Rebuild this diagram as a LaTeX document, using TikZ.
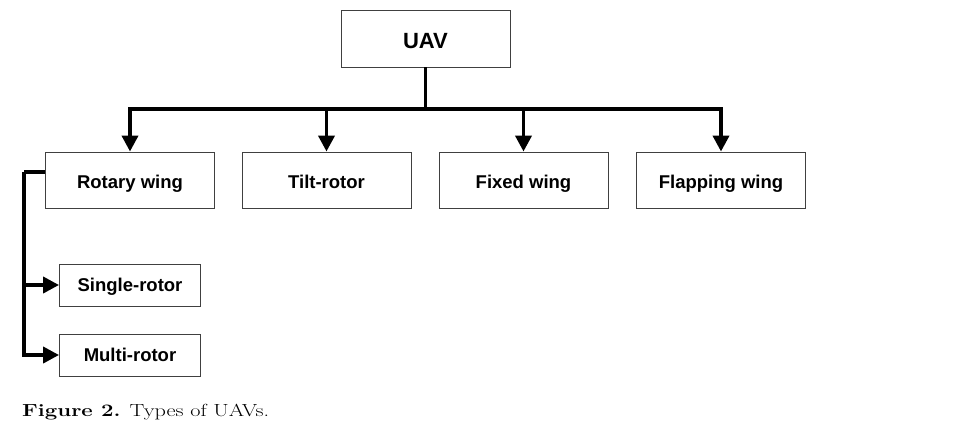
\documentclass[tikz,border=0pt]{standalone}
\usepackage{fontspec}
\newfontfamily\arialfont{Liberation Sans}
\newfontfamily\capfont{Latin Modern Roman}[FakeStretch=1.27]
\usetikzlibrary{arrows.meta}
\tikzset{
  box/.style={draw=black!75, line width=0.9pt, fill=white, inner sep=0pt, text height=17pt, text depth=0pt, font=\arialfont\bfseries\fontsize{18.5}{20}\selectfont},
  smallbox/.style={box, text height=13pt},
  conn/.style={line width=3.8pt, black, line join=miter},
  arr/.style={conn, -{Triangle[length=16pt,width=16pt]}}
}
\begin{document}
\begin{tikzpicture}[x=1pt,y=-1pt]
\useasboundingbox (0,0) rectangle (964,423);
\node[box, minimum width=169pt, minimum height=57pt, text height=20pt, font=\arialfont\bfseries\fontsize{22}{26}\selectfont] (uav) at (425.5,38.5) {UAV};
\node[box, minimum width=169pt, minimum height=56pt] (rw) at (130,180) {Rotary wing};
\node[box, minimum width=169pt, minimum height=56pt] (tr) at (326.5,180) {Tilt-rotor};
\node[box, minimum width=169pt, minimum height=56pt] (fw) at (523.5,180) {Fixed wing};
\node[box, minimum width=169pt, minimum height=56pt] (fl) at (721,180) {Flapping wing};
\node[smallbox, minimum width=141pt, minimum height=42pt] (sr) at (130,285) {Single-rotor};
\node[smallbox, minimum width=141pt, minimum height=42pt] (mr) at (130,355) {Multi-rotor};
\coordinate (bus) at (425.5,109);
\draw[conn] (uav.south) -- (uav.south |- bus);
\draw[conn, {Triangle[length=16pt,width=16pt]}-{Triangle[length=16pt,width=16pt]}] (rw.north) |- (bus) -| (fl.north);
\draw[arr] (tr.north |- bus) -- (tr.north);
\draw[arr] (fw.north |- bus) -- (fw.north);
\draw[conn] ([yshift=8pt]rw.west) -- ++(-21,0) coordinate (lc);
\draw[arr] (lc) |- (mr.west);
\draw[arr] (lc |- sr.west) -- (sr.west);
\node[anchor=base west, inner sep=0pt, font=\capfont\fontsize{17.5}{20}\selectfont] (cap) at (22,416) {\textbf{Figure 2.} Types of UAVs.};
\end{tikzpicture}
\end{document}
